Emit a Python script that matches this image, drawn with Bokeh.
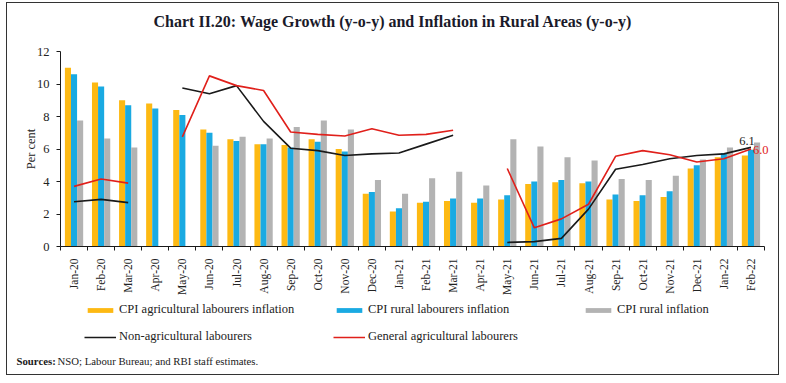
import numpy as np
from bokeh.plotting import figure
from bokeh.models import (ColumnDataSource, Range1d, FixedTicker, Legend, LegendItem, Label)
from bokeh.core.properties import value
from bokeh.transform import dodge
from bokeh.embed import file_html
from bokeh.resources import INLINE

nan = float("nan")

months = ["Jan-20", "Feb-20", "Mar-20", "Apr-20", "May-20", "Jun-20", "Jul-20", "Aug-20",
          "Sep-20", "Oct-20", "Nov-20", "Dec-20", "Jan-21", "Feb-21", "Mar-21", "Apr-21",
          "May-21", "Jun-21", "Jul-21", "Aug-21", "Sep-21", "Oct-21", "Nov-21", "Dec-21",
          "Jan-22", "Feb-22"]

cpi_al = [11.0, 10.1, 9.0, 8.8, 8.4, 7.2, 6.6, 6.3, 6.25, 6.6, 6.0, 3.25, 2.15, 2.7, 2.8,
          2.7, 2.9, 3.85, 3.95, 3.9, 2.9, 2.8, 3.05, 4.8, 5.5, 5.6]
cpi_rl = [10.6, 9.85, 8.7, 8.5, 8.1, 7.0, 6.5, 6.3, 6.1, 6.45, 5.85, 3.35, 2.35, 2.75, 2.95,
          2.95, 3.15, 4.0, 4.1, 4.0, 3.2, 3.15, 3.4, 5.0, 5.75, 5.95]
cpi_rural = [7.75, 6.65, 6.1, nan, nan, 6.2, 6.75, 6.65, 7.35, 7.75, 7.2, 4.1, 3.25, 4.2, 4.6,
             3.75, 6.6, 6.15, 5.5, 5.3, 4.15, 4.1, 4.35, 5.35, 6.1, 6.4]
non_agri = [2.75, 2.9, 2.7, nan, 9.75, 9.4, 9.9, 7.7, 6.05, 5.9, 5.6, 5.7, 5.75, 6.3, 6.85,
            nan, 0.25, 0.3, 0.5, 2.3, 4.75, 5.05, 5.4, 5.6, 5.7, 6.1]
gen_agri = [3.7, 4.15, 3.9, nan, 6.75, 10.5, 9.9, 9.6, 7.05, 6.9, 6.8, 7.25, 6.85, 6.9, 7.15,
            nan, 4.8, 1.15, 1.7, 2.6, 5.55, 5.9, 5.65, 5.2, 5.4, 6.0]

title_text = "Chart II.20: Wage Growth (y-o-y) and Inflation in Rural Areas (y-o-y)"

FONT = "Liberation Serif"
ORANGE = "#FDB913"
BLUE = "#1AAAE2"
GREY = "#B3B3B3"
RED = "#E0201B"
BLACK = "#1A1A1A"
TXT = "#222222"

n = len(months)
centers = [i + 0.5 for i in range(n)]
bounds = [float(i) for i in range(n + 1)]

src = ColumnDataSource(dict(x=centers, al=cpi_al, rl=cpi_rl, rural=cpi_rural,
                            nonagri=non_agri, genagri=gen_agri))

# canvas 773 x 373; plot area (x 0..26, y 0..12) sits 53px from left, 16px from right,
# 48px from top and 130px from bottom; axes are drawn at fixed locations inside the frame
CW, CH = 773, 373
FL, FR, FT, FB = 53, 16, 48, 130
pxx = (CW - FL - FR) / n
pxy = (CH - FT - FB) / 12.0
x_start = -FL / pxx
x_end = n + FR / pxx
y_start = -FB / pxy
y_end = 12 + FT / pxy

p = figure(width=CW, height=CH, x_range=Range1d(x_start, x_end),
           y_range=Range1d(y_start, y_end), output_backend="svg", toolbar_location=None,
           title=None,
           min_border_left=0, min_border_right=0, min_border_top=0, min_border_bottom=0)
p.styles = {"border": "1px solid #333333", "margin-left": "6px", "margin-top": "2px"}
p.outline_line_color = None
p.xgrid.visible = False
p.ygrid.visible = False
p.background_fill_color = "white"
p.border_fill_color = "white"

W = 0.225
r_al = p.vbar(x=dodge("x", -W, range=p.x_range), top="al", width=W, source=src,
              color=ORANGE, line_color=None)
r_rl = p.vbar(x=dodge("x", 0, range=p.x_range), top="rl", width=W, source=src,
              color=BLUE, line_color=None)
r_ru = p.vbar(x=dodge("x", W, range=p.x_range), top="rural", width=W, source=src,
              color=GREY, line_color=None)
r_na = p.line(x="x", y="nonagri", source=src, line_color=BLACK, line_width=1.6)
r_ga = p.line(x="x", y="genagri", source=src, line_color=RED, line_width=1.6)

# end labels
lab_na = ColumnDataSource(dict(x=[centers[-1]], y=[non_agri[-1]], t=[f"{non_agri[-1]:.1f}"]))
lab_ga = ColumnDataSource(dict(x=[centers[-1]], y=[gen_agri[-1]], t=[f"{gen_agri[-1]:.1f}"]))
p.text(x="x", y="y", text="t", source=lab_na, text_font=value(FONT), text_font_size="12.5px",
       text_color=BLACK, text_align="center", text_baseline="bottom", x_offset=-4, y_offset=-2)
p.text(x="x", y="y", text="t", source=lab_ga, text_font=value(FONT), text_font_size="12.5px",
       text_color=RED, text_align="left", text_baseline="middle", x_offset=2, y_offset=1)

# axes (drawn at x=0 / y=0 inside the frame)
xa = p.xaxis[0]
xa.fixed_location = 0
xa.bounds = (0, n)
xa.ticker = FixedTicker(ticks=centers, minor_ticks=bounds)
xa.major_label_overrides = {c: m for c, m in zip(centers, months)}
xa.major_label_orientation = np.pi / 2
xa.major_tick_in = 0
xa.major_tick_out = 0
xa.minor_tick_in = 0
xa.minor_tick_out = 4
xa.minor_tick_line_color = BLACK
xa.axis_line_color = BLACK
xa.major_label_text_font = FONT
xa.major_label_text_font_size = "11.5px"
xa.major_label_text_color = TXT
xa.major_label_standoff = 8

ya = p.yaxis[0]
ya.fixed_location = 0
ya.bounds = (0, 12)
ya.ticker = FixedTicker(ticks=[0, 2, 4, 6, 8, 10, 12], minor_ticks=[])
ya.major_tick_in = 0
ya.major_tick_out = 4
ya.major_tick_line_color = BLACK
ya.minor_tick_line_color = None
ya.axis_line_color = BLACK
ya.major_label_text_font = FONT
ya.major_label_text_font_size = "12.5px"
ya.major_label_text_color = TXT
ya.major_label_standoff = 7
ya.axis_label = "Per cent"
ya.axis_label_text_font = FONT
ya.axis_label_text_font_size = "12.5px"
ya.axis_label_text_font_style = "normal"
ya.axis_label_text_color = TXT
ya.axis_label_standoff = -4

# title (placed in screen pixels from the bottom-left of the frame)
title = Label(x=CW / 2 - 1, y=CH - 18, x_units="screen", y_units="screen", text=title_text,
              text_font=FONT, text_font_size="16px", text_font_style="bold",
              text_align="center", text_baseline="middle", text_color="#1a1a2a")
p.add_layout(title)

# legend
legend = Legend(items=[
    LegendItem(label="CPI agricultural labourers inflation", renderers=[r_al]),
    LegendItem(label="CPI rural labourers inflation", renderers=[r_rl]),
    LegendItem(label="CPI rural inflation", renderers=[r_ru]),
    LegendItem(label="Non-agricultural labourers", renderers=[r_na]),
    LegendItem(label="General agricultural labourers", renderers=[r_ga]),
], location=(77, 32), orientation="horizontal", ncols=3)
legend.glyph_width = 32
legend.glyph_height = 6
legend.label_width = 202
legend.label_height = 14
legend.label_standoff = 3
legend.spacing = 12
legend.padding = 0
legend.margin = 0
legend.border_line_color = None
legend.background_fill_alpha = 0
legend.label_text_font = FONT
legend.label_text_font_size = "12.5px"
legend.label_text_color = TXT
p.add_layout(legend, "center")

# sources
s1 = Label(x=9, y=16, x_units="screen", y_units="screen", text="Sources:",
           text_font=FONT, text_font_size="10.75px", text_font_style="bold",
           text_baseline="middle", text_color="#1a1a1a")
s2 = Label(x=50, y=16, x_units="screen", y_units="screen",
           text="NSO; Labour Bureau; and RBI staff estimates.",
           text_font=FONT, text_font_size="10.75px", text_baseline="middle", text_color="#1a1a1a")
p.add_layout(s1)
p.add_layout(s2)

open("out.html", "w").write(file_html(p, INLINE))
